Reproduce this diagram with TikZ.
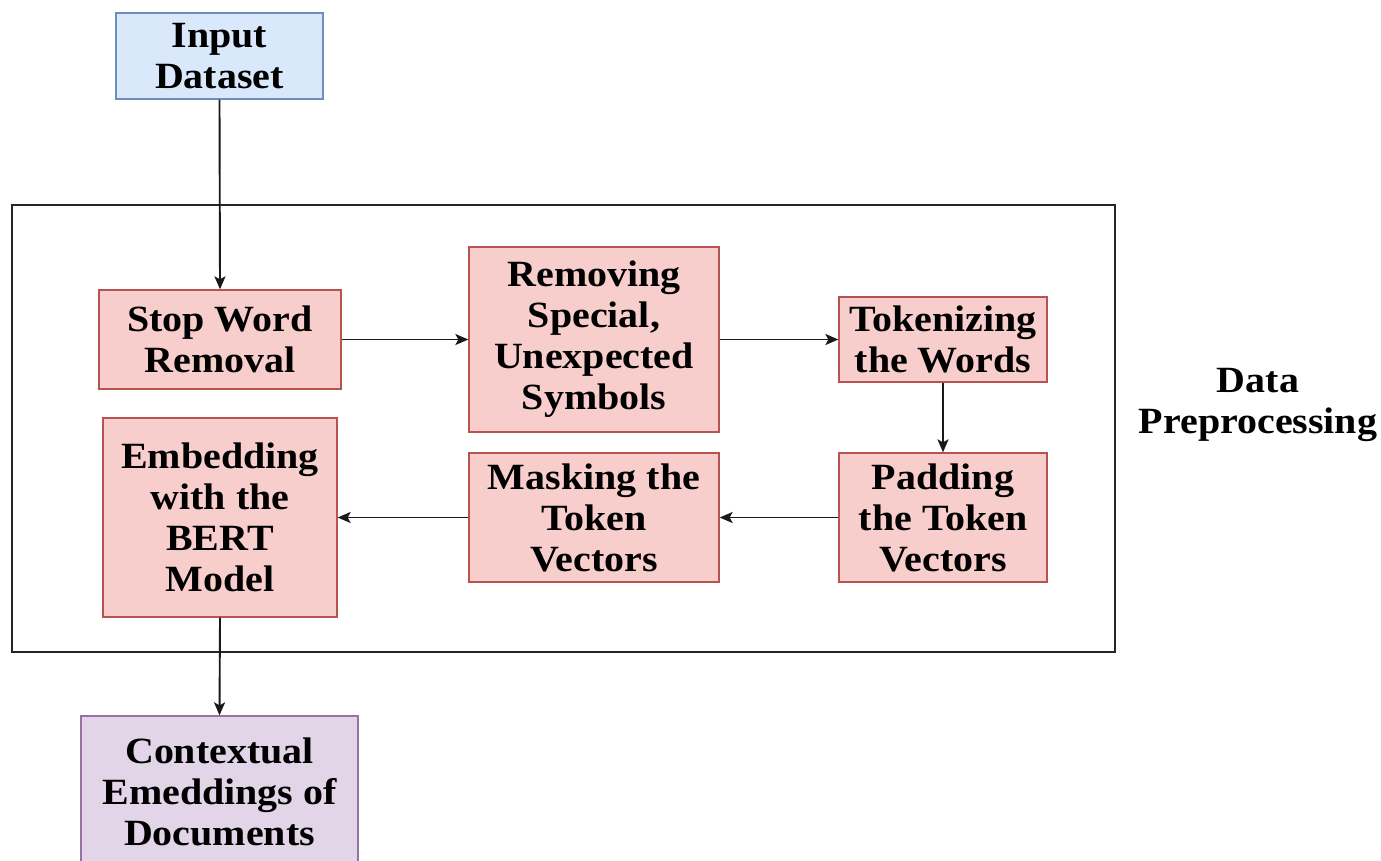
\documentclass[tikz,border=0pt]{standalone}
\usepackage{fontspec}
\setmainfont{Liberation Serif}[FakeStretch=1.08]
\usetikzlibrary{arrows.meta}
\definecolor{pinkfill}{HTML}{F8CECC}
\definecolor{pinkline}{HTML}{B85450}
\definecolor{bluefill}{HTML}{DAE8FC}
\definecolor{blueline}{HTML}{6C8EBF}
\definecolor{purpfill}{HTML}{E1D5E7}
\definecolor{purpline}{HTML}{9673A6}
\tikzset{
  box/.style={draw, line width=1.3pt, rectangle, align=center, inner sep=0pt,
    font=\fontsize{37}{41}\selectfont\bfseries},
  pinkbox/.style={box, fill=pinkfill, draw=pinkline},
  bluebox/.style={box, fill=bluefill, draw=blueline},
  purpbox/.style={box, fill=purpfill, draw=purpline},
  conn/.style={line width=1.9pt, black!90, -{Stealth[length=13pt,width=11pt,inset=3pt]}},
  lbl/.style={align=center, font=\fontsize{37}{41}\selectfont\bfseries}
}
\begin{document}
\begin{tikzpicture}[x=1pt,y=-1pt]
\clip (0,0) rectangle (1381,860);
\fill[white] (0,0) rectangle (1381,860);
\draw[line width=1.5pt, black!85] (12,205) rectangle (1115,652);
\node[bluebox, minimum width=207pt, minimum height=86pt] (inp) at (219.5,56) {Input\\Dataset};
\node[pinkbox, minimum width=242pt, minimum height=99pt] (stop) at (220,339.5) {Stop Word\\Removal};
\node[pinkbox, minimum width=250pt, minimum height=185pt] (rem) at (594,339.5) {Removing\\Special,\\Unexpected\\Symbols};
\node[pinkbox, minimum width=208pt, minimum height=85pt] (tok) at (943,339.5) {Tokenizing\\the Words};
\node[pinkbox, minimum width=208pt, minimum height=129pt] (pad) at (943,517.5) {Padding\\the Token\\Vectors};
\node[pinkbox, minimum width=250pt, minimum height=129pt] (mask) at (594,517.5) {Masking the\\Token\\Vectors};
\node[pinkbox, minimum width=234pt, minimum height=199pt] (emb) at (220,517.5) {Embedding\\with the\\BERT\\Model};
\node[purpbox, minimum width=277pt, minimum height=152pt] (ctx) at (219.5,792) {Contextual\\Emeddings of\\Documents};
\node[lbl] (dp) at (1258,405) {Data\\Preprocessing};
\draw[conn] (inp.south) -- (stop.north);
\draw[conn] (stop.east) -- (rem.west);
\draw[conn] (rem.east) -- (tok.west);
\draw[conn] (tok.south) -- (pad.north);
\draw[conn] (pad.west) -- (mask.east);
\draw[conn] (mask.west) -- (emb.east);
\draw[conn] (emb.south) -- (ctx.north);
\end{tikzpicture}
\end{document}
